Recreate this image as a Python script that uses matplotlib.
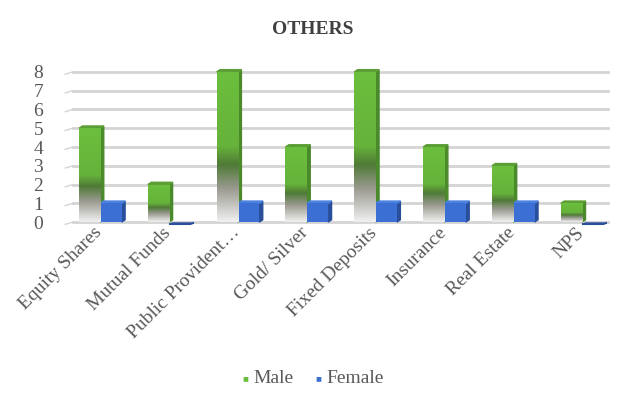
import numpy as np
import matplotlib.pyplot as plt
from matplotlib.patches import Rectangle, Polygon
from matplotlib.colors import LinearSegmentedColormap
from matplotlib.transforms import ScaledTranslation

# Données
categories = ["Equity Shares", "Mutual Funds", "Public Provident…", "Gold/ Silver",
              "Fixed Deposits", "Insurance", "Real Estate", "NPS"]
male = [5, 2, 8, 4, 8, 4, 3, 1]
female = [1, 0, 1, 1, 1, 1, 1, 0]
yticks = [0, 1, 2, 3, 4, 5, 6, 7, 8]

plt.rcParams['font.family'] = ['Liberation Serif', 'DejaVu Serif']

fig = plt.figure(figsize=(6.26, 4), dpi=100)
ax = fig.add_axes([0.102, 0.426, 0.874, 0.413])
ax.set_xlim(-0.55, 7.4)
ax.set_ylim(-0.4, 8.4)

# Grille en perspective
for v in yticks:
    ax.plot([-0.42, 7.35], [v, v], color='#d4d4d4', lw=2, zorder=1)
    ax.plot([-0.53, -0.42], [v - 0.12, v], color='#d4d4d4', lw=1, zorder=1)

green_cmap = LinearSegmentedColormap.from_list(
    'g', [(0, '#f0f0f0'), (0.22, '#9a9a90'), (0.38, '#4f7a36'), (0.5, '#66b23a'), (1, '#6cbf3e')])

dx, dy = 0.05, 0.12
w = 0.31

def bar3d(x0, h, front, side, top, cmap=None):
    if h <= 0:
        poly = Polygon([(x0, -0.12), (x0 + w, -0.12), (x0 + w + dx, -0.12 + dy * 0.6),
                        (x0 + dx, -0.12 + dy * 0.6)], closed=True, color=side, zorder=3)
        ax.add_patch(poly)
        return
    ax.add_patch(Polygon([(x0 + w, 0), (x0 + w + dx, dy), (x0 + w + dx, h + dy), (x0 + w, h)],
                         closed=True, color=side, zorder=3))
    ax.add_patch(Polygon([(x0, h), (x0 + w, h), (x0 + w + dx, h + dy), (x0 + dx, h + dy)],
                         closed=True, color=top, zorder=3))
    rect = Rectangle((x0, 0), w, h, facecolor=front, edgecolor='none', zorder=3)
    ax.add_patch(rect)
    if cmap is not None:
        grad = np.linspace(0, 1, 200).reshape(-1, 1)
        im = ax.imshow(grad, cmap=cmap, extent=[x0, x0 + w, 0, h], origin='lower',
                       aspect='auto', zorder=4)
        im.set_clip_path(rect)

for i, (m, f) in enumerate(zip(male, female)):
    bar3d(i - 0.33, m, '#6cbf3e', '#4a8a2a', '#5c9e36', green_cmap)
    bar3d(i - 0.02, f, '#3b6fd4', '#2a4f9a', '#4a80e0')

ax.set_xlim(-0.55, 7.4)
ax.set_ylim(-0.4, 8.4)
ax.set_yticks(yticks)
ax.set_yticklabels([str(v) for v in yticks], color='#595959', fontsize=14)
ax.set_xticks(range(len(categories)))
ax.set_xticklabels(categories, rotation=45, ha='right', rotation_mode='anchor',
                   color='#595959', fontsize=14)
ax.tick_params(axis='y', length=0, pad=15)
ax.tick_params(axis='x', length=0, pad=0)
offset = ScaledTranslation(-6 / 72, 4 / 72, fig.dpi_scale_trans)
for lbl in ax.get_xticklabels():
    lbl.set_transform(lbl.get_transform() + offset)
for s in ax.spines.values():
    s.set_visible(False)

fig.text(0.5, 0.925, "OTHERS", ha='center', va='center', fontsize=14,
         fontweight='bold', color='#404040')

# Légende
fig.text(0.392, 0.053, "■", color='#6cbf3e', fontsize=7, ha='center', va='center')
fig.text(0.405, 0.053, "Male", color='#595959', fontsize=14, ha='left', va='center')
fig.text(0.508, 0.053, "■", color='#3b6fd4', fontsize=7, ha='center', va='center')
fig.text(0.521, 0.053, "Female", color='#595959', fontsize=14, ha='left', va='center')

fig.savefig('out.png', dpi=100)
